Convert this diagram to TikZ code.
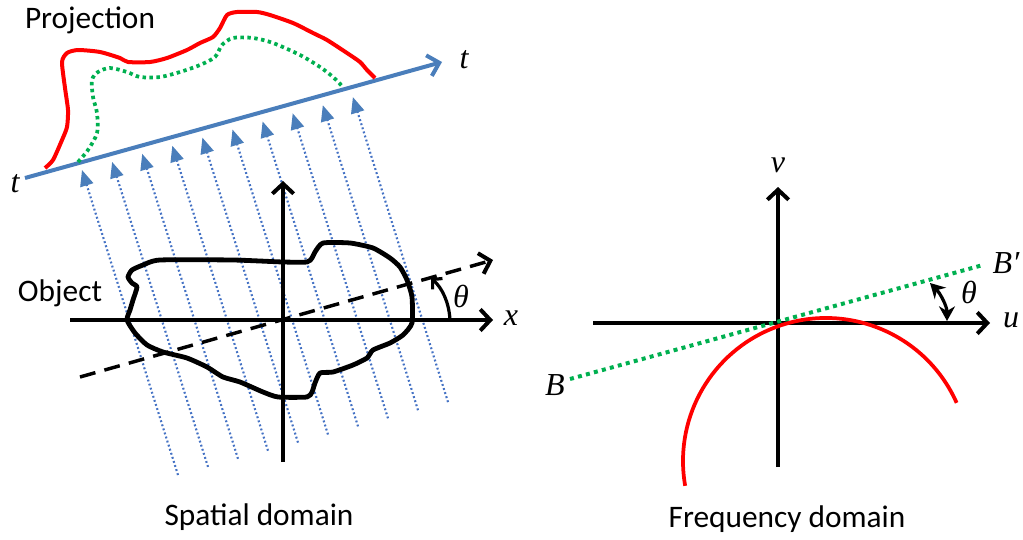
\documentclass[tikz,border=0pt]{standalone}
\usepackage{fontspec}
\setmainfont{Carlito}
\newfontfamily\serfont{Liberation Serif}
\usetikzlibrary{arrows.meta}
\definecolor{projblue}{RGB}{74,126,187}
\definecolor{raydot}{RGB}{68,114,196}
\definecolor{projgreen}{RGB}{0,176,80}
\begin{document}
\begin{tikzpicture}[x=0.75pt,y=-0.75pt,
  lbl/.style={font=\fontsize{23.5}{28}\selectfont, inner sep=0pt},
  mlbl/.style={font=\fontsize{24}{28}\selectfont\serfont\itshape, inner sep=0pt},
  barb/.style={-{Straight Barb[length=7.5pt,width=16pt,line width=3pt]}},
  axisline/.style={line width=3pt, barb},
  rayline/.style={raydot, line width=1.6pt, dash pattern=on 1.4pt off 1.8pt,
    -{Triangle[length=12pt,width=10pt,fill=projblue,color=projblue]}},
  dashaxis/.style={line width=2.6pt, dash pattern=on 12pt off 7pt, barb},
  blobline/.style={line width=3.6pt, line join=round},
  redcurve/.style={red, line width=3pt, line join=round},
  greendots/.style={projgreen, line width=2.8pt, dash pattern=on 2.6pt off 2.6pt}]
\useasboundingbox (0,0) rectangle (1023,539);

% ---------- spatial domain ----------
\coordinate (O) at (283,320);
\coordinate (xs) at (70,320);
\coordinate (xe) at (493,320);
\coordinate (ys) at (283,462);
\coordinate (ye) at (283,181);
\coordinate (ds) at (80,377);
\coordinate (de) at (493,260);

% projection rays
\foreach \i in {0,...,9}{
  \coordinate (rb\i) at ({178+30*\i},{475-8.1*\i});
  \coordinate (rt\i) at ({82+30.1*\i},{170-8.1*\i});
  \draw[rayline] (rb\i) -- (rt\i);
}

% object blob
\draw[blobline] plot[smooth cycle, tension=0.35] coordinates {
 (127,320) (130,310) (133,300) (137,287) (132,283) (128,277) (132,270)
 (143,265) (160,260) (233,260) (283,262) (307,262) (312,258) (315,252)
 (323,243) (350,243) (373,248) (390,258) (400,267) (407,280) (412,297)
 (412,323) (403,335) (390,343) (373,350) (367,358) (353,365) (333,372)
 (320,373) (315,383) (312,392) (307,397) (278,397) (263,392) (240,382)
 (223,377) (207,367) (187,358) (163,352) (147,345) (135,333)};

% axes
\draw[axisline] (xs) -- (xe);
\draw[axisline] (ys) -- (ye);
\draw[dashaxis] (ds) -- (de);

% theta arc (spatial)
\coordinate (ta1) at (450,320);
\coordinate (ta2) at (431,278);
\draw[line width=2.4pt, -{Straight Barb[length=5pt,width=11pt,line width=2.4pt]}]
  (ta1) .. controls (449,302) and (442,288) .. (ta2);
\node[mlbl] (th1) at (461,296) {θ};
\node[mlbl] (xl) at (511,318) {x};

% projection line
\coordinate (ps) at (25,178);
\coordinate (pe) at (442,62);
\draw[projblue, line width=3pt, -{Straight Barb[length=8pt,width=16pt,line width=3pt]}] (ps) -- (pe);
\node[mlbl] (tl) at (15,184) {t};
\node[mlbl] (tr) at (464,60) {t};

% projection profile (red)
\draw[redcurve] plot[smooth, tension=0.4] coordinates {
 (45,168) (53,160) (62,140) (67,127) (68,110) (65,88) (62,62) (67,53)
 (78,50) (100,52) (120,58) (128,62) (150,62) (167,58) (187,50) (200,43)
 (213,37) (220,28) (227,15) (237,12) (257,12) (270,15) (293,23) (313,33)
 (327,40) (347,53) (360,62) (367,70) (375,78)};

% projection profile (green dotted)
\draw[greendots] plot[smooth, tension=0.5] coordinates {
 (78,162) (88,150) (97,133) (97,113) (93,97) (92,80) (98,72) (110,68)
 (127,72) (140,77) (160,77) (180,72) (200,65) (215,57) (222,45) (233,38)
 (253,38) (273,43) (300,55) (320,67) (333,77) (343,87)};

\node[lbl] (proj) at (90,20) {Projection};
\node[lbl] (obj) at (60,293) {Object};
\node[lbl] (sd) at (259,517) {Spatial domain};

% ---------- frequency domain ----------
\coordinate (F) at (778,323);
\coordinate (us) at (593,323);
\coordinate (ue) at (990,323);
\coordinate (vs) at (778,467);
\coordinate (ve) at (778,187);
\coordinate (Bs) at (570,379);
\coordinate (Be) at (983,265);

\draw[axisline] (us) -- (ue);
\draw[axisline] (vs) -- (ve);
\draw[red, line width=2.8pt] (826,461) ++(-24:143) arc[start angle=-24, end angle=-190, radius=143];
\draw[projgreen, line width=3pt, dash pattern=on 3pt off 3.2pt] (Bs) -- (Be);

\coordinate (fa1) at (947,321);
\coordinate (fa2) at (930,283);
\draw[line width=2.4pt, {Stealth[length=11pt,width=12pt]}-{Stealth[length=11pt,width=12pt]}]
  (fa1) .. controls (947,306) and (940,293) .. (fa2);

\node[mlbl] (th2) at (969,292) {θ};
\node[mlbl] (ul) at (1011,320) {u};
\node[mlbl] (vl) at (778,165) {v};
\node[mlbl] (bl) at (555,385) {B};
\node[mlbl] (bpl) at (1006,263) {B′};
\node[lbl] (fd) at (787,519) {Frequency domain};
\end{tikzpicture}
\end{document}
